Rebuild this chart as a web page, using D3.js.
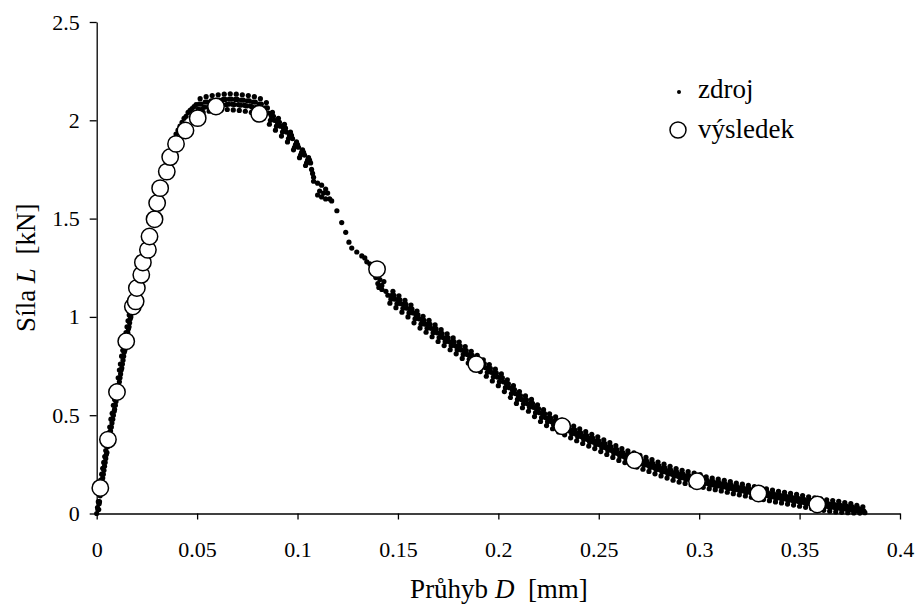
<!DOCTYPE html>
<html>
<head>
<meta charset="utf-8">
<script src="https://cdn.jsdelivr.net/npm/d3@7"></script>
<style>
  body { margin: 0; background: #fff; }
  svg { display: block; }
  svg text { font-family: "Liberation Serif", "DejaVu Serif", serif; fill: #000; }
</style>
</head>
<body>
<svg width="919" height="606"></svg>
<script>
const xTicks = [0, 0.05, 0.1, 0.15, 0.2, 0.25, 0.3, 0.35, 0.4];
const yTicks = [0, 0.5, 1, 1.5, 2, 2.5];
const seriesNames = ['zdroj', 'výsledek'];

// výsledek: [D (mm), L (kN)]
const vysledek = [
  [0.0018, 0.13], [0.0056, 0.376], [0.0101, 0.618], [0.0147, 0.876], [0.018, 1.053],
  [0.0194, 1.079], [0.02, 1.147], [0.0222, 1.214], [0.023, 1.277], [0.0255, 1.341],
  [0.0263, 1.409], [0.0288, 1.497], [0.0301, 1.579], [0.0316, 1.655], [0.0349, 1.739],
  [0.0366, 1.813], [0.0395, 1.88], [0.0442, 1.948], [0.0503, 2.011], [0.0594, 2.07],
  [0.0809, 2.033], [0.1396, 1.243], [0.189, 0.76], [0.2318, 0.444], [0.2678, 0.271],
  [0.2989, 0.164], [0.3295, 0.102], [0.3588, 0.046]
];

// zdroj: [D (mm), L (kN)]
const zdrojNabeh = [
  [0, 0], [0.0004, 0.03], [0.0008, 0.06], [0.0012, 0.1], [0.0016, 0.13], [0.002, 0.17], [0.0025, 0.2],
  [0.003, 0.23], [0.0035, 0.26], [0.004, 0.29], [0.0045, 0.32], [0.005, 0.35], [0.0055, 0.38],
  [0.006, 0.41], [0.0065, 0.44], [0.0071, 0.48], [0.0077, 0.51], [0.0083, 0.55], [0.0089, 0.58],
  [0.0095, 0.61], [0.0101, 0.65], [0.0107, 0.69], [0.0113, 0.73], [0.0118, 0.76], [0.0124, 0.8],
  [0.013, 0.83], [0.0135, 0.86], [0.014, 0.89], [0.0146, 0.92], [0.0151, 0.95], [0.0156, 0.98],
  [0.0162, 1.01], [0.0168, 1.04], [0.0175, 1.07],
  [0.0006, 0.02], [0.0012, 0.05], [0.0017, 0.09], [0.0022, 0.13], [0.0027, 0.16], [0.0033, 0.2],
  [0.0039, 0.24], [0.0045, 0.28], [0.0051, 0.31], [0.0057, 0.35], [0.0063, 0.38], [0.0069, 0.42],
  [0.0076, 0.46], [0.0083, 0.5], [0.0089, 0.53], [0.0096, 0.57], [0.0103, 0.61], [0.0109, 0.65],
  [0.0116, 0.69], [0.0122, 0.73], [0.0128, 0.76], [0.0134, 0.8], [0.014, 0.83], [0.0146, 0.87],
  [0.0152, 0.9], [0.0158, 0.94], [0.0164, 0.97], [0.017, 1.0],
  [0.001, 0.02], [0.0014, 0.06], [0.0019, 0.1], [0.0024, 0.14], [0.003, 0.18], [0.0036, 0.22],
  [0.0042, 0.26], [0.0048, 0.3], [0.0054, 0.34], [0.006, 0.37], [0.0066, 0.4], [0.0073, 0.44],
  [0.008, 0.48], [0.0087, 0.52], [0.0093, 0.55], [0.01, 0.59], [0.0106, 0.63], [0.0113, 0.67],
  [0.0119, 0.71], [0.0125, 0.74], [0.0131, 0.78], [0.0137, 0.82], [0.0143, 0.85], [0.0149, 0.88],
  [0.0155, 0.92], [0.0161, 0.95], [0.0167, 0.99], [0.0173, 1.02],
  [0.0185, 1.11], [0.0195, 1.15], [0.0205, 1.19], [0.0215, 1.23], [0.0225, 1.27], [0.0235, 1.31],
  [0.0245, 1.35], [0.0255, 1.39], [0.0265, 1.43], [0.0275, 1.48], [0.0285, 1.52], [0.0295, 1.56],
  [0.0305, 1.6], [0.0315, 1.64], [0.0325, 1.68], [0.0335, 1.72], [0.0345, 1.76], [0.0355, 1.8],
  [0.0365, 1.84], [0.0375, 1.87], [0.0385, 1.9], [0.0395, 1.93], [0.0405, 1.95], [0.0415, 1.97],
  [0.0425, 1.99], [0.0435, 2.01], [0.0445, 2.02], [0.0455, 2.04], [0.0465, 2.05], [0.0475, 2.06],
  [0.0485, 2.07], [0.0495, 2.08]
];

const zdrojVrchol = [
  [0.05, 2.03], [0.0505, 2.057], [0.051, 2.083], [0.0515, 2.11], [0.052, 2.083], [0.0525, 2.057],
  [0.053, 2.04], [0.0535, 2.067], [0.054, 2.093], [0.0545, 2.12], [0.055, 2.093], [0.0555, 2.067],
  [0.056, 2.046], [0.0565, 2.073], [0.057, 2.099], [0.0575, 2.126], [0.058, 2.099], [0.0585, 2.073],
  [0.059, 2.05], [0.0595, 2.077], [0.06, 2.103], [0.0605, 2.13], [0.061, 2.103], [0.0615, 2.077],
  [0.062, 2.053], [0.0625, 2.08], [0.063, 2.106], [0.0635, 2.133], [0.064, 2.106], [0.0645, 2.08],
  [0.065, 2.055], [0.0655, 2.082], [0.066, 2.108], [0.0665, 2.135], [0.067, 2.108], [0.0675, 2.082],
  [0.068, 2.053], [0.0685, 2.08], [0.069, 2.106], [0.0695, 2.133], [0.07, 2.106], [0.0705, 2.08],
  [0.071, 2.05], [0.0715, 2.077], [0.072, 2.103], [0.0725, 2.13], [0.073, 2.103], [0.0735, 2.077],
  [0.074, 2.046], [0.0745, 2.073], [0.075, 2.099], [0.0755, 2.126], [0.076, 2.099], [0.0765, 2.073],
  [0.077, 2.04], [0.0775, 2.067], [0.078, 2.093], [0.0785, 2.12], [0.079, 2.093], [0.0795, 2.067],
  [0.08, 2.03], [0.0805, 2.057], [0.081, 2.083], [0.0815, 2.11], [0.082, 2.083], [0.0825, 2.057],
  [0.083, 2.01], [0.0835, 2.037], [0.084, 2.063], [0.0845, 2.09], [0.085, 2.063], [0.0855, 2.037]
];

const zdrojPokles = [
  [0.086, 1.98], [0.0865, 2.0], [0.087, 2.02], [0.0875, 2.04], [0.088, 2.02], [0.0885, 2.0],
  [0.089, 1.95], [0.0895, 1.97], [0.09, 1.99], [0.0905, 2.01], [0.091, 1.99], [0.0915, 1.97],
  [0.092, 1.92], [0.0925, 1.94], [0.093, 1.96], [0.0935, 1.98], [0.094, 1.96], [0.0945, 1.94],
  [0.095, 1.89], [0.0955, 1.907], [0.096, 1.923], [0.0965, 1.94], [0.097, 1.923], [0.0975, 1.907],
  [0.098, 1.85], [0.0985, 1.863], [0.099, 1.877], [0.0995, 1.89], [0.1, 1.877], [0.1005, 1.863],
  [0.101, 1.81], [0.1015, 1.823], [0.102, 1.837], [0.1025, 1.85], [0.103, 1.837], [0.1035, 1.823],
  [0.104, 1.77], [0.1045, 1.783], [0.105, 1.797], [0.1055, 1.81], [0.106, 1.797], [0.1065, 1.783],
  [0.107, 1.75], [0.1075, 1.73], [0.108, 1.71], [0.108, 1.69], [0.11, 1.68], [0.112, 1.67],
  [0.114, 1.65], [0.115, 1.63], [0.113, 1.63], [0.111, 1.64], [0.11, 1.62], [0.112, 1.61],
  [0.114, 1.6], [0.116, 1.6], [0.117, 1.59], [0.1196, 1.54], [0.122, 1.48], [0.124, 1.43],
  [0.1256, 1.38], [0.127, 1.35], [0.1295, 1.33], [0.132, 1.31], [0.1335, 1.3], [0.1345, 1.28],
  [0.136, 1.27], [0.137, 1.25], [0.1385, 1.24], [0.1405, 1.23], [0.139, 1.2], [0.141, 1.19],
  [0.143, 1.18], [0.142, 1.16], [0.14, 1.17], [0.1405, 1.15], [0.142, 1.14], [0.144, 1.13],
  [0.145, 1.11]
];

const zdrojStred = [
  [0.146, 1.07], [0.1465, 1.09], [0.147, 1.11], [0.1475, 1.13], [0.148, 1.11], [0.1485, 1.09],
  [0.149, 1.047], [0.1495, 1.067], [0.15, 1.087], [0.1505, 1.107], [0.151, 1.087], [0.1515, 1.067],
  [0.152, 1.024], [0.1525, 1.044], [0.153, 1.064], [0.1535, 1.084], [0.154, 1.064], [0.1545, 1.044],
  [0.155, 1.0], [0.1555, 1.02], [0.156, 1.04], [0.1565, 1.06], [0.157, 1.04], [0.1575, 1.02],
  [0.158, 0.97], [0.1585, 0.99], [0.159, 1.01], [0.1595, 1.03], [0.16, 1.01], [0.1605, 0.99],
  [0.161, 0.943], [0.1615, 0.963], [0.162, 0.983], [0.1625, 1.003], [0.163, 0.983], [0.1635, 0.963],
  [0.164, 0.922], [0.1645, 0.942], [0.165, 0.962], [0.1655, 0.982], [0.166, 0.962], [0.1665, 0.942],
  [0.167, 0.899], [0.1675, 0.919], [0.168, 0.939], [0.1685, 0.959], [0.169, 0.939], [0.1695, 0.919],
  [0.17, 0.875], [0.1705, 0.895], [0.171, 0.915], [0.1715, 0.935], [0.172, 0.915], [0.1725, 0.895],
  [0.173, 0.854], [0.1735, 0.874], [0.174, 0.894], [0.1745, 0.914], [0.175, 0.894], [0.1755, 0.874],
  [0.176, 0.833], [0.1765, 0.853], [0.177, 0.873], [0.1775, 0.893], [0.178, 0.873], [0.1785, 0.853],
  [0.179, 0.812], [0.1795, 0.832], [0.18, 0.852], [0.1805, 0.872], [0.181, 0.852], [0.1815, 0.832],
  [0.182, 0.789], [0.1825, 0.809], [0.183, 0.829], [0.1835, 0.849], [0.184, 0.829], [0.1845, 0.809],
  [0.185, 0.765], [0.1855, 0.785], [0.186, 0.805], [0.1865, 0.825], [0.187, 0.805], [0.1875, 0.785],
  [0.188, 0.744], [0.1885, 0.764], [0.189, 0.784], [0.1895, 0.804], [0.19, 0.784], [0.1905, 0.764],
  [0.191, 0.722], [0.1915, 0.742], [0.192, 0.762], [0.1925, 0.782], [0.193, 0.762], [0.1935, 0.742],
  [0.194, 0.698], [0.1945, 0.718], [0.195, 0.738], [0.1955, 0.758], [0.196, 0.738], [0.1965, 0.718],
  [0.197, 0.674], [0.1975, 0.694], [0.198, 0.714], [0.1985, 0.734], [0.199, 0.714], [0.1995, 0.694],
  [0.2, 0.65], [0.2005, 0.67], [0.201, 0.69], [0.2015, 0.71], [0.202, 0.69], [0.2025, 0.67],
  [0.203, 0.62], [0.2035, 0.64], [0.204, 0.66], [0.2045, 0.68], [0.205, 0.66], [0.2055, 0.64],
  [0.206, 0.59], [0.2065, 0.61], [0.207, 0.63], [0.2075, 0.65], [0.208, 0.63], [0.2085, 0.61],
  [0.209, 0.56], [0.2095, 0.58], [0.21, 0.6], [0.2105, 0.62], [0.211, 0.6], [0.2115, 0.58],
  [0.212, 0.538], [0.2125, 0.558], [0.213, 0.578], [0.2135, 0.598], [0.214, 0.578], [0.2145, 0.558],
  [0.215, 0.52], [0.2155, 0.54], [0.216, 0.56], [0.2165, 0.58], [0.217, 0.56], [0.2175, 0.54],
  [0.218, 0.493], [0.2185, 0.513], [0.219, 0.533], [0.2195, 0.553], [0.22, 0.533], [0.2205, 0.513],
  [0.221, 0.468], [0.2215, 0.488], [0.222, 0.508], [0.2225, 0.528], [0.223, 0.508], [0.2235, 0.488],
  [0.224, 0.447], [0.2245, 0.467], [0.225, 0.487], [0.2255, 0.507], [0.226, 0.487], [0.2265, 0.467],
  [0.227, 0.431], [0.2275, 0.451], [0.228, 0.471], [0.2285, 0.491], [0.229, 0.471], [0.2295, 0.451],
  [0.23, 0.415], [0.2305, 0.435], [0.231, 0.455], [0.2315, 0.475], [0.232, 0.455], [0.2325, 0.435]
];

const zdrojKonec = [
  [0.233, 0.4], [0.2335, 0.42], [0.234, 0.44], [0.2345, 0.46], [0.235, 0.44], [0.2355, 0.42],
  [0.236, 0.385], [0.2365, 0.405], [0.237, 0.425], [0.2375, 0.445], [0.238, 0.425], [0.2385, 0.405],
  [0.239, 0.37], [0.2395, 0.39], [0.24, 0.41], [0.2405, 0.43], [0.241, 0.41], [0.2415, 0.39],
  [0.242, 0.356], [0.2425, 0.376], [0.243, 0.396], [0.2435, 0.416], [0.244, 0.396], [0.2445, 0.376],
  [0.245, 0.343], [0.2455, 0.363], [0.246, 0.383], [0.2465, 0.403], [0.247, 0.383], [0.2475, 0.363],
  [0.248, 0.33], [0.2485, 0.35], [0.249, 0.37], [0.2495, 0.39], [0.25, 0.37], [0.2505, 0.35],
  [0.251, 0.315], [0.2515, 0.335], [0.252, 0.355], [0.2525, 0.375], [0.253, 0.355], [0.2535, 0.335],
  [0.254, 0.3], [0.2545, 0.32], [0.255, 0.34], [0.2555, 0.36], [0.256, 0.34], [0.2565, 0.32],
  [0.257, 0.285], [0.2575, 0.305], [0.258, 0.325], [0.2585, 0.345], [0.259, 0.325], [0.2595, 0.305],
  [0.26, 0.27], [0.2605, 0.29], [0.261, 0.31], [0.2615, 0.33], [0.262, 0.31], [0.2625, 0.29],
  [0.263, 0.259], [0.2635, 0.279], [0.264, 0.299], [0.2645, 0.319], [0.265, 0.299], [0.2655, 0.279],
  [0.266, 0.248], [0.2665, 0.268], [0.267, 0.288], [0.2675, 0.308], [0.268, 0.288], [0.2685, 0.268],
  [0.269, 0.236], [0.2695, 0.256], [0.27, 0.276], [0.2705, 0.296], [0.271, 0.276], [0.2715, 0.256],
  [0.272, 0.225], [0.2725, 0.245], [0.273, 0.265], [0.2735, 0.285], [0.274, 0.265], [0.2745, 0.245],
  [0.275, 0.214], [0.2755, 0.234], [0.276, 0.254], [0.2765, 0.274], [0.277, 0.254], [0.2775, 0.234],
  [0.278, 0.202], [0.2785, 0.222], [0.279, 0.242], [0.2795, 0.262], [0.28, 0.242], [0.2805, 0.222],
  [0.281, 0.191], [0.2815, 0.211], [0.282, 0.231], [0.2825, 0.251], [0.283, 0.231], [0.2835, 0.211],
  [0.284, 0.18], [0.2845, 0.2], [0.285, 0.22], [0.2855, 0.24], [0.286, 0.22], [0.2865, 0.2],
  [0.287, 0.169], [0.2875, 0.189], [0.288, 0.209], [0.2885, 0.229], [0.289, 0.209], [0.2895, 0.189],
  [0.29, 0.16], [0.2905, 0.18], [0.291, 0.2], [0.2915, 0.22], [0.292, 0.2], [0.2925, 0.18],
  [0.293, 0.153], [0.2935, 0.173], [0.294, 0.193], [0.2945, 0.213], [0.295, 0.193], [0.2955, 0.173],
  [0.296, 0.145], [0.2965, 0.165], [0.297, 0.185], [0.2975, 0.205], [0.298, 0.185], [0.2985, 0.165],
  [0.299, 0.138], [0.2995, 0.158], [0.3, 0.178], [0.3005, 0.198], [0.301, 0.178], [0.3015, 0.158],
  [0.302, 0.133], [0.3025, 0.151], [0.303, 0.169], [0.3035, 0.187], [0.304, 0.169], [0.3045, 0.151],
  [0.305, 0.126], [0.3055, 0.144], [0.306, 0.162], [0.3065, 0.18], [0.307, 0.162], [0.3075, 0.144],
  [0.308, 0.121], [0.3085, 0.139], [0.309, 0.157], [0.3095, 0.175], [0.31, 0.157], [0.3105, 0.139],
  [0.311, 0.115], [0.3115, 0.133], [0.312, 0.151], [0.3125, 0.169], [0.313, 0.151], [0.3135, 0.133],
  [0.314, 0.108], [0.3145, 0.126], [0.315, 0.144], [0.3155, 0.162], [0.316, 0.144], [0.3165, 0.126],
  [0.317, 0.101], [0.3175, 0.119], [0.318, 0.137], [0.3185, 0.155], [0.319, 0.137], [0.3195, 0.119],
  [0.32, 0.095], [0.3205, 0.113], [0.321, 0.131], [0.3215, 0.149], [0.322, 0.131], [0.3225, 0.113],
  [0.323, 0.089], [0.3235, 0.107], [0.324, 0.125], [0.3245, 0.143], [0.325, 0.125], [0.3255, 0.107],
  [0.326, 0.083], [0.3265, 0.101], [0.327, 0.119], [0.3275, 0.137], [0.328, 0.119], [0.3285, 0.101],
  [0.329, 0.077], [0.3295, 0.095], [0.33, 0.113], [0.3305, 0.131], [0.331, 0.113], [0.3315, 0.095],
  [0.332, 0.071], [0.3325, 0.089], [0.333, 0.107], [0.3335, 0.125], [0.334, 0.107], [0.3345, 0.089],
  [0.335, 0.065], [0.3355, 0.083], [0.336, 0.101], [0.3365, 0.119], [0.337, 0.101], [0.3375, 0.083],
  [0.338, 0.059], [0.3385, 0.077], [0.339, 0.095], [0.3395, 0.113], [0.34, 0.095], [0.3405, 0.077],
  [0.341, 0.054], [0.3415, 0.072], [0.342, 0.09], [0.3425, 0.108], [0.343, 0.09], [0.3435, 0.072],
  [0.344, 0.048], [0.3445, 0.066], [0.345, 0.084], [0.3455, 0.102], [0.346, 0.084], [0.3465, 0.066],
  [0.347, 0.043], [0.3475, 0.061], [0.348, 0.079], [0.3485, 0.097], [0.349, 0.079], [0.3495, 0.061],
  [0.35, 0.037], [0.3505, 0.055], [0.351, 0.073], [0.3515, 0.091], [0.352, 0.073], [0.3525, 0.055],
  [0.353, 0.031], [0.3535, 0.049], [0.354, 0.067], [0.3545, 0.085], [0.355, 0.067], [0.3555, 0.049],
  [0.356, 0.026], [0.3565, 0.044], [0.357, 0.062], [0.3575, 0.08], [0.358, 0.062], [0.3585, 0.044],
  [0.359, 0.021], [0.3595, 0.039], [0.36, 0.057], [0.3605, 0.075], [0.361, 0.057], [0.3615, 0.039],
  [0.362, 0.016], [0.3625, 0.034], [0.363, 0.052], [0.3635, 0.07], [0.364, 0.052], [0.3645, 0.034],
  [0.365, 0.012], [0.3655, 0.03], [0.366, 0.048], [0.3665, 0.066], [0.367, 0.048], [0.3675, 0.03],
  [0.368, 0.008], [0.3685, 0.026], [0.369, 0.044], [0.3695, 0.062], [0.37, 0.044], [0.3705, 0.026],
  [0.371, 0.006], [0.3715, 0.022], [0.372, 0.04], [0.3725, 0.056], [0.373, 0.04], [0.3735, 0.022],
  [0.374, 0.004], [0.3745, 0.017], [0.375, 0.035], [0.3755, 0.05], [0.376, 0.035], [0.3765, 0.017],
  [0.377, 0.003], [0.3775, 0.012], [0.378, 0.028], [0.3785, 0.042], [0.379, 0.028], [0.3795, 0.012],
  [0.38, 0.002], [0.3805, 0.01], [0.381, 0.022], [0.3815, 0.034], [0.382, 0.012], [0.3825, 0.004]
];

const zdroj = [].concat(zdrojNabeh, zdrojVrchol, zdrojPokles, zdrojStred, zdrojKonec);

function plot() {
  const svg = d3.select('svg');
  const xScale = d3.scaleLinear()
      .domain([0, 0.4])
      .range([96.7, 900]);
  const yScale = d3.scaleLinear()
      .domain([0, 2.5])
      .range([513.5, 22]);

  const xAxis = d3.axisBottom(xScale)
      .tickValues(xTicks)
      .tickSize(6)
      .tickSizeOuter(0)
      .tickPadding(22)
      .tickFormat(d => String(d));
  const yAxis = d3.axisLeft(yScale)
      .tickValues(yTicks)
      .tickSize(7)
      .tickSizeOuter(0)
      .tickPadding(10)
      .tickFormat(d => String(d));

  const xG = svg.append('g')
      .attr('transform', `translate(0, ${yScale(0)})`)
      .call(xAxis);
  const yG = svg.append('g')
      .attr('transform', `translate(${xScale(0)}, 0)`)
      .call(yAxis);
  [xG, yG].forEach(g => {
    g.attr('font-family', null).attr('font-size', null);
    g.selectAll('path, line').style('stroke', '#000').style('stroke-width', '1.3px');
    g.selectAll('text').style('font-size', '22px');
  });

  // zdroj - small dots
  svg.append('g')
      .selectAll('circle.zdroj')
      .data(zdroj)
      .enter()
      .append('circle')
      .attr('class', 'zdroj')
      .attr('cx', d => xScale(d[0]))
      .attr('cy', d => yScale(d[1]))
      .attr('r', 2.6)
      .style('fill', '#000');

  // výsledek - open circles
  svg.append('g')
      .selectAll('circle.vysledek')
      .data(vysledek)
      .enter()
      .append('circle')
      .attr('class', 'vysledek')
      .attr('cx', d => xScale(d[0]))
      .attr('cy', d => yScale(d[1]))
      .attr('r', 8.2)
      .style('fill', '#fff')
      .style('stroke', '#000')
      .style('stroke-width', '1.5px');

  // axis titles
  const xTitle = svg.append('text')
      .attr('x', 499)
      .attr('y', 598)
      .attr('text-anchor', 'middle')
      .style('font-size', '27px')
      .style('white-space', 'pre');
  xTitle.append('tspan').text('Průhyb ');
  xTitle.append('tspan').style('font-style', 'italic').text('D');
  xTitle.append('tspan').text('  [mm]');

  const yTitle = svg.append('text')
      .attr('transform', `translate(35, ${(yScale(0) + yScale(2.5)) / 2}) rotate(-90)`)
      .attr('text-anchor', 'middle')
      .style('font-size', '27px')
      .style('white-space', 'pre');
  yTitle.append('tspan').text('Síla ');
  yTitle.append('tspan').style('font-style', 'italic').text('L');
  yTitle.append('tspan').text('  [kN]');

  // legend
  const legend = svg.append('g').attr('transform', 'translate(679, 0)');
  legend.append('circle')
      .attr('cx', 0)
      .attr('cy', 92)
      .attr('r', 2)
      .style('fill', '#000');
  legend.append('circle')
      .attr('cx', -1)
      .attr('cy', 130)
      .attr('r', 8)
      .style('fill', '#fff')
      .style('stroke', '#000')
      .style('stroke-width', '1.5px');
  legend.selectAll('text')
      .data(seriesNames)
      .enter()
      .append('text')
      .attr('x', 19)
      .attr('y', (d, i) => 98 + i * 40)
      .style('font-size', '27px')
      .text(d => d);
}

plot();
</script>
</body>
</html>
